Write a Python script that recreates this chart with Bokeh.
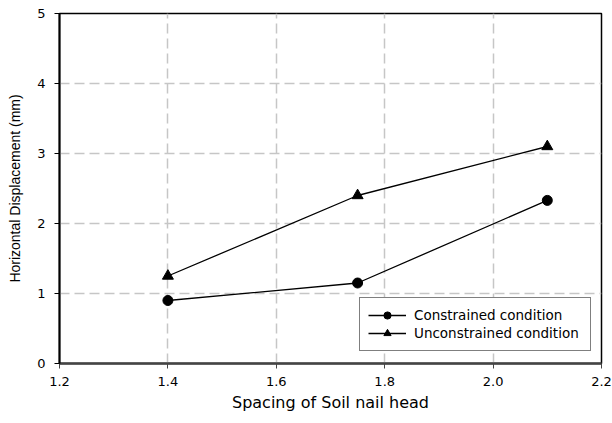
from bokeh.plotting import figure
from bokeh.models import (FixedTicker, NumeralTickFormatter, Legend, LegendItem,
                          Range1d)
from bokeh.embed import file_html
from bokeh.resources import INLINE

# Soil nail head spacing vs. horizontal displacement
spacing = [1.4, 1.75, 2.1]
constrained = [0.90, 1.15, 2.33]
unconstrained = [1.25, 2.40, 3.10]

x_ticks = [1.2, 1.4, 1.6, 1.8, 2.0, 2.2]
y_ticks = [0, 1, 2, 3, 4, 5]

FONT = "DejaVu Sans"

p = figure(width=612, height=423, output_backend="svg", toolbar_location=None,
           x_range=Range1d(1.2, 2.2), y_range=Range1d(0, 5),
           min_border_left=59, min_border_right=11, min_border_top=13,
           min_border_bottom=60)

p.background_fill_color = "white"
p.border_fill_color = "white"
p.outline_line_color = "black"
p.outline_line_width = 1.5

for ax in (p.xaxis, p.yaxis):
    ax.major_label_text_font = FONT
    ax.major_label_text_font_size = "13px"
    ax.major_label_text_color = "black"
    ax.axis_label_text_font = FONT
    ax.axis_label_text_font_style = "normal"
    ax.axis_label_text_color = "black"
    ax.minor_tick_line_color = None
    ax.major_tick_in = 0
    ax.major_tick_out = 5

p.xaxis.ticker = FixedTicker(ticks=x_ticks)
p.xaxis.formatter = NumeralTickFormatter(format="0.0")
p.yaxis.ticker = FixedTicker(ticks=y_ticks)
p.xaxis.axis_label = "Spacing of Soil nail head"
p.yaxis.axis_label = "Horizontal Displacement (mm)"
p.xaxis.axis_label_text_font_size = "16px"
p.yaxis.axis_label_text_font = "Liberation Sans"
p.yaxis.axis_label_text_font_size = "14px"
p.xaxis.axis_line_color = "#444444"
p.xaxis.axis_line_width = 2.5
p.xaxis.major_tick_line_color = "#444444"
p.yaxis.axis_line_color = "black"
p.yaxis.axis_line_width = 2
p.xaxis.major_label_standoff = 8
p.xaxis.axis_label_standoff = 4
p.yaxis.major_label_standoff = 9
p.yaxis.axis_label_standoff = 11

for g in (p.xgrid, p.ygrid):
    g.grid_line_color = "#c6c6c6"
    g.grid_line_width = 1.5
    g.grid_line_dash = "10 5"

l1 = p.line(spacing, constrained, line_color="black", line_width=1.3)
s1 = p.scatter(spacing, constrained, marker="circle", size=10,
               fill_color="black", line_color="black")
l2 = p.line(spacing, unconstrained, line_color="black", line_width=1.3)
s2 = p.scatter(spacing, unconstrained, marker="triangle", size=11,
               fill_color="black", line_color="black")

legend = Legend(items=[
    LegendItem(label="Constrained condition", renderers=[l1, s1]),
    LegendItem(label="Unconstrained condition", renderers=[l2, s2]),
], location=(300, 12))
legend.label_text_font = FONT
legend.label_text_font_size = "13.5px"
legend.label_text_color = "black"
legend.glyph_width = 38
legend.glyph_height = 18
legend.label_height = 18
legend.label_width = 168
legend.label_standoff = 8
legend.spacing = 0
legend.padding = 8
legend.margin = 0
legend.border_line_color = "black"
legend.border_line_width = 1.5
legend.background_fill_color = "white"
legend.background_fill_alpha = 1
p.add_layout(legend, "center")

open("out.html", "w").write(file_html(p, INLINE))
